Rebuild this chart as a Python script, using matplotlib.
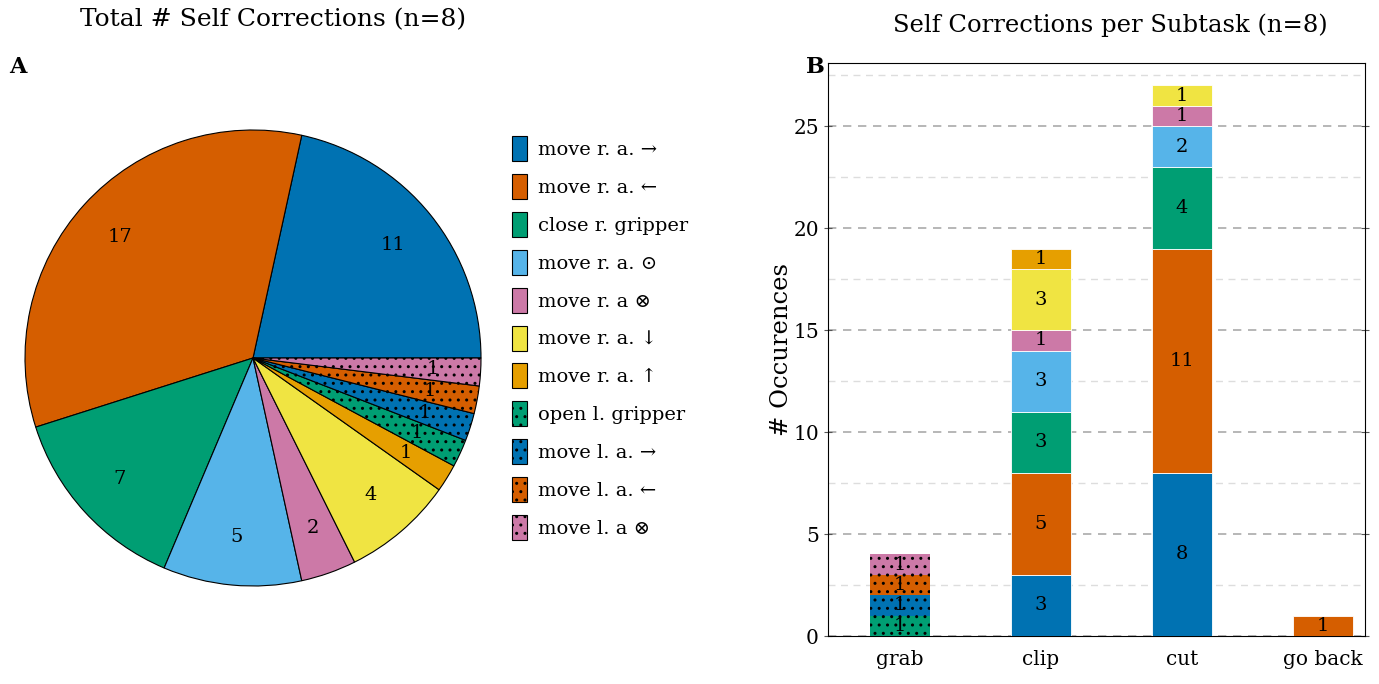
import numpy as np
import matplotlib
matplotlib.use("Agg")
import matplotlib.pyplot as plt
from matplotlib.patches import Patch
from matplotlib.ticker import MultipleLocator

plt.rcParams['font.family'] = ['DejaVu Serif', 'DejaVu Sans']
plt.rcParams['hatch.linewidth'] = 1.0

# Data
labels = ["move r. a. \u2192", "move r. a. \u2190", "close r. gripper", "move r. a. \u2299",
          "move r. a \u2297", "move r. a. \u2193", "move r. a. \u2191", "open l. gripper",
          "move l. a. \u2192", "move l. a. \u2190", "move l. a \u2297"]
totals = [11, 17, 7, 5, 2, 4, 1, 1, 1, 1, 1]
colors = ["#0072B2", "#D55E00", "#009E73", "#56B4E9", "#CC79A7", "#F0E442", "#E69F00",
          "#009E73", "#0072B2", "#D55E00", "#CC79A7"]
dotted = [False] * 7 + [True] * 4

subtasks = ["grab", "clip", "cut", "go back"]
# per label: counts for grab, clip, cut, go back
per_subtask = [
    [0, 3, 8, 0],
    [0, 5, 11, 1],
    [0, 3, 4, 0],
    [0, 3, 2, 0],
    [0, 1, 1, 0],
    [0, 3, 1, 0],
    [0, 1, 0, 0],
    [1, 0, 0, 0],
    [1, 0, 0, 0],
    [1, 0, 0, 0],
    [1, 0, 0, 0],
]

HATCH = ".."

fig = plt.figure(figsize=(13.79, 6.84), dpi=100)

# ---- A: pie ----
axp = fig.add_axes([253 / 1379 - 228 / 1379, (684 - 358) / 684 - 228 / 684,
                    456 / 1379, 456 / 684])
wedges, texts, autotexts = axp.pie(
    totals, colors=colors, startangle=0, counterclock=True,
    autopct=lambda p: f"{round(p * sum(totals) / 100):d}", pctdistance=0.79,
    wedgeprops=dict(edgecolor="black", linewidth=0.8),
    textprops=dict(fontsize=14))
for w, d in zip(wedges, dotted):
    if d:
        w.set_hatch(HATCH)
axp.set_xlim(-1, 1)
axp.set_ylim(-1, 1)
axp.set_aspect("auto")

handles = []
for c, d, l in zip(colors, dotted, labels):
    handles.append(Patch(facecolor=c, edgecolor="black", linewidth=0.8,
                         hatch=HATCH if d else None, label=l))
fig.legend(handles=handles, loc="upper left", bbox_to_anchor=(494 / 1379, 1 - 119 / 684),
           frameon=False, fontsize=14, handlelength=0.8, handleheight=1.6,
           handletextpad=0.55, labelspacing=0.66)

fig.text(273 / 1379, 1 - 20 / 684, "Total # Self Corrections (n=8)", ha="center",
         va="center", fontsize=18)
fig.text(18 / 1379, 1 - 67 / 684, "A", ha="center", va="center", fontsize=16,
         fontweight="bold")

# ---- B: stacked bars ----
axb = fig.add_axes([828 / 1379, (684 - 636) / 684, 537 / 1379, 573 / 684])
x = np.arange(len(subtasks))
bottom = np.zeros(len(subtasks))
for c, d, vals in zip(colors, dotted, per_subtask):
    vals = np.array(vals, dtype=float)
    mask = vals > 0
    bars = axb.bar(x[mask], vals[mask], width=0.425, bottom=bottom[mask], color=c,
                   edgecolor="black" if d else "white",
                   linewidth=0 if d else 0.6, hatch=HATCH if d else None, zorder=3)
    axb.bar_label(bars, labels=[f"{int(v)}" for v in vals[mask]], label_type="center",
                  fontsize=14)
    bottom += vals

axb.set_xlim(-0.51, 3.30)
axb.set_ylim(0, 28.1)
axb.set_xticks(x)
axb.set_xticklabels(subtasks, fontsize=14.5)
axb.tick_params(axis="x", length=0, pad=10)
axb.yaxis.set_major_locator(MultipleLocator(5))
axb.yaxis.set_minor_locator(MultipleLocator(2.5))
axb.tick_params(axis="y", which="major", labelsize=14.5, direction="inout", length=6,
                right=True, color="#555555")
axb.tick_params(axis="y", which="minor", length=0)
axb.grid(axis="y", which="major", linestyle=(0, (5, 4)), color="#aaaaaa", linewidth=1.2,
         zorder=0)
axb.grid(axis="y", which="minor", linestyle=(0, (5, 4)), color="#dddddd", linewidth=1.0,
         zorder=0)
axb.set_axisbelow(True)
for s in axb.spines.values():
    s.set_linewidth(0.8)
axb.set_ylabel("# Occurences", fontsize=17.5)
axb.yaxis.set_label_coords(-0.066, 0.5)

fig.text(1110 / 1379, 1 - 25 / 684, "Self Corrections per Subtask (n=8)", ha="center",
         va="center", fontsize=17.5)
fig.text(815 / 1379, 1 - 67 / 684, "B", ha="center", va="center", fontsize=16,
         fontweight="bold")

fig.savefig("out.png", dpi=100)
